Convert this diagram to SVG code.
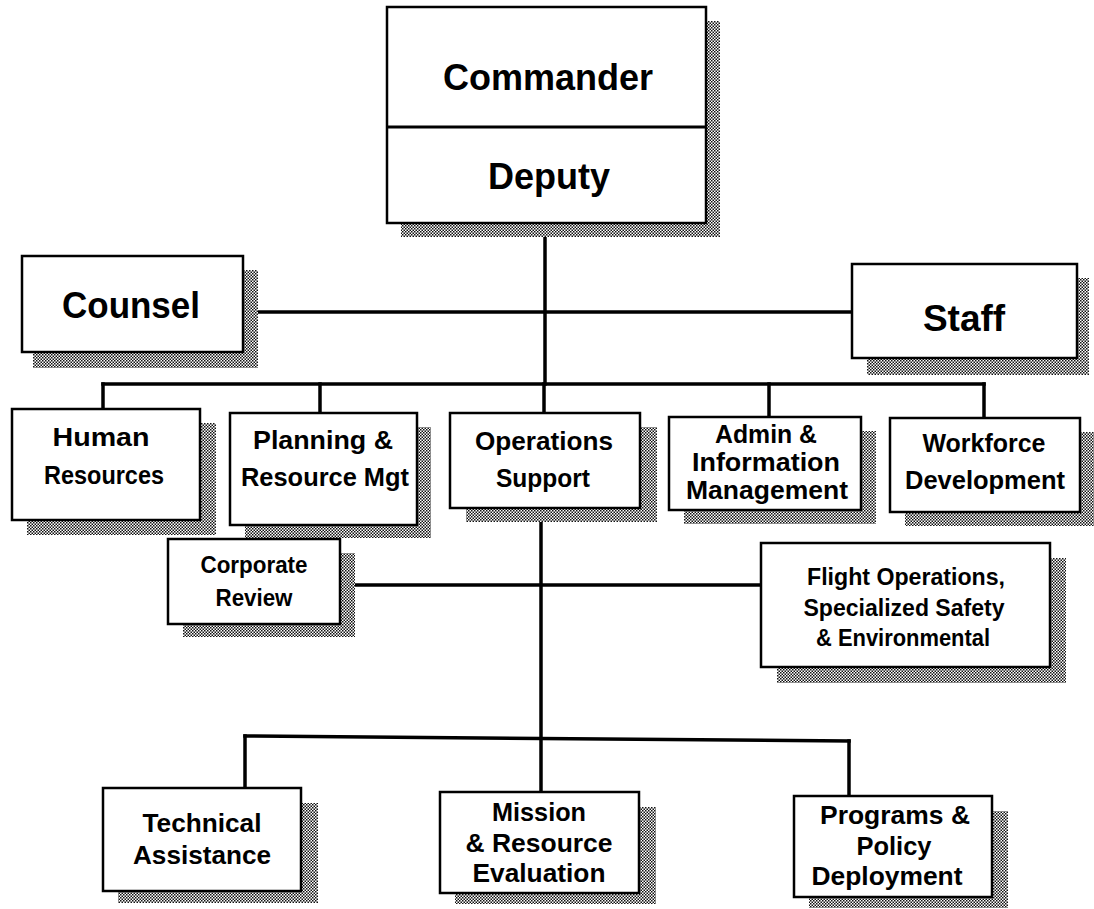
<svg xmlns="http://www.w3.org/2000/svg" width="1094" height="909" viewBox="0 0 1094 909">
<defs>
<pattern id="stipple" width="3" height="3" patternUnits="userSpaceOnUse">
<rect width="3" height="3" fill="#fff"/>
<rect width="1.5" height="1.5" fill="#111"/>
<rect x="1.5" y="1.5" width="1.5" height="1.5" fill="#111"/>
</pattern>
<style>
.box{fill:#fff;stroke:#000;stroke-width:2.5}
.sh{fill:url(#stipple);stroke:none}
.ln{fill:none;stroke:#000;stroke-width:3.5;stroke-linecap:square}
text{font-family:"Liberation Sans",Arial,Helvetica,sans-serif;font-weight:bold;fill:#000;text-anchor:middle}
.xl{font-size:36px}
.m{font-size:26px}
.s{font-size:23px}
</style>
</defs>
<rect width="1094" height="909" fill="#fff"/>

<g id="connectors">
<line class="ln" x1="545" y1="223" x2="545" y2="384"/>
<line class="ln" x1="243" y1="312" x2="852" y2="312"/>
<line class="ln" x1="103" y1="384" x2="984" y2="384"/>
<line class="ln" x1="103" y1="384" x2="103" y2="409"/>
<line class="ln" x1="320" y1="384" x2="320" y2="413"/>
<line class="ln" x1="544" y1="384" x2="544" y2="413"/>
<line class="ln" x1="769" y1="384" x2="769" y2="417"/>
<line class="ln" x1="984" y1="384" x2="984" y2="418"/>
<line class="ln" x1="541" y1="508" x2="541" y2="792"/>
<line class="ln" x1="340" y1="585" x2="761" y2="585"/>
<line class="ln" x1="245" y1="736" x2="849" y2="741"/>
<line class="ln" x1="245" y1="736" x2="245" y2="788"/>
<line class="ln" x1="849" y1="741" x2="849" y2="796"/>
</g>

<g id="commander">
<path class="sh" d="M706 21 H720 V237 H401 V223 H706 Z"/>
<rect class="box" x="387" y="7" width="319" height="216"/>
<line x1="387" y1="127" x2="706" y2="127" stroke="#000" stroke-width="3"/>
<text class="xl" x="548" y="90" textLength="210" lengthAdjust="spacingAndGlyphs">Commander</text>
<text class="xl" x="549" y="189" textLength="122" lengthAdjust="spacingAndGlyphs">Deputy</text>
</g>

<g id="counsel">
<path class="sh" d="M243 270 H258 V368 H33 V352 H243 Z"/>
<rect class="box" x="22" y="256" width="221" height="96"/>
<text class="xl" x="131" y="318" textLength="138" lengthAdjust="spacingAndGlyphs">Counsel</text>
</g>

<g id="staff">
<path class="sh" d="M1077 278 H1089 V375 H867 V358 H1077 Z"/>
<rect class="box" x="852" y="264" width="225" height="94"/>
<text x="964" y="331" style="font-size:37px">Staff</text>
</g>

<g id="human-resources">
<path class="sh" d="M200 423 H216 V535 H27 V520 H200 Z"/>
<rect class="box" x="12" y="409" width="188" height="111"/>
<text class="m" x="101" y="446" textLength="97" lengthAdjust="spacingAndGlyphs">Human</text>
<text class="m" x="104" y="484" textLength="120" lengthAdjust="spacingAndGlyphs">Resources</text>
</g>

<g id="planning">
<path class="sh" d="M417 427 H431 V538 H245 V525 H417 Z"/>
<rect class="box" x="230" y="413" width="187" height="112"/>
<text class="m" x="323" y="449" textLength="140" lengthAdjust="spacingAndGlyphs">Planning &amp;</text>
<text class="m" x="325" y="486" textLength="168" lengthAdjust="spacingAndGlyphs">Resource Mgt</text>
</g>

<g id="operations-support">
<path class="sh" d="M640 427 H657 V522 H466 V508 H640 Z"/>
<rect class="box" x="450" y="413" width="190" height="95"/>
<text class="m" x="544" y="450" textLength="138" lengthAdjust="spacingAndGlyphs">Operations</text>
<text class="m" x="543" y="487" textLength="94" lengthAdjust="spacingAndGlyphs">Support</text>
</g>

<g id="admin">
<path class="sh" d="M861 431 H876 V524 H684 V510 H861 Z"/>
<rect class="box" x="669" y="417" width="192" height="93"/>
<text class="m" x="766" y="443" textLength="102" lengthAdjust="spacingAndGlyphs">Admin &amp;</text>
<text class="m" x="766" y="471" textLength="148" lengthAdjust="spacingAndGlyphs">Information</text>
<text class="m" x="767" y="499" textLength="162" lengthAdjust="spacingAndGlyphs">Management</text>
</g>

<g id="workforce">
<path class="sh" d="M1080 432 H1094 V526 H905 V512 H1080 Z"/>
<rect class="box" x="890" y="418" width="190" height="94"/>
<text class="m" x="984" y="452" textLength="123" lengthAdjust="spacingAndGlyphs">Workforce</text>
<text class="m" x="985" y="489" textLength="160" lengthAdjust="spacingAndGlyphs">Development</text>
</g>

<g id="corporate-review">
<path class="sh" d="M340 553 H355 V637 H183 V624 H340 Z"/>
<rect class="box" x="168" y="539" width="172" height="85"/>
<text class="s" x="254" y="573" textLength="107" lengthAdjust="spacingAndGlyphs">Corporate</text>
<text class="s" x="254" y="606" textLength="77" lengthAdjust="spacingAndGlyphs">Review</text>
</g>

<g id="flight-operations">
<path class="sh" d="M1050 558 H1066 V683 H777 V667 H1050 Z"/>
<rect class="box" x="761" y="543" width="289" height="124"/>
<text class="s" x="906" y="585" textLength="198" lengthAdjust="spacingAndGlyphs">Flight Operations,</text>
<text class="s" x="904" y="616" textLength="201" lengthAdjust="spacingAndGlyphs">Specialized Safety</text>
<text class="s" x="903" y="646" textLength="174" lengthAdjust="spacingAndGlyphs">&amp; Environmental</text>
</g>

<g id="technical-assistance">
<path class="sh" d="M301 803 H318 V903 H118 V891 H301 Z"/>
<rect class="box" x="103" y="788" width="198" height="103"/>
<text class="m" x="202" y="832" textLength="119" lengthAdjust="spacingAndGlyphs">Technical</text>
<text class="m" x="202" y="864" textLength="138" lengthAdjust="spacingAndGlyphs">Assistance</text>
</g>

<g id="mission-evaluation">
<path class="sh" d="M639 807 H656 V904 H455 V893 H639 Z"/>
<rect class="box" x="440" y="792" width="199" height="101"/>
<text class="m" x="539" y="821" textLength="94" lengthAdjust="spacingAndGlyphs">Mission</text>
<text class="m" x="539" y="852" textLength="147" lengthAdjust="spacingAndGlyphs">&amp; Resource</text>
<text class="m" x="539" y="882" textLength="133" lengthAdjust="spacingAndGlyphs">Evaluation</text>
</g>

<g id="programs-policy">
<path class="sh" d="M992 811 H1008 V908 H809 V897 H992 Z"/>
<rect class="box" x="794" y="796" width="198" height="101"/>
<text class="m" x="895" y="824" textLength="150" lengthAdjust="spacingAndGlyphs">Programs &amp;</text>
<text class="m" x="894" y="855" textLength="75" lengthAdjust="spacingAndGlyphs">Policy</text>
<text class="m" x="887" y="885" textLength="151" lengthAdjust="spacingAndGlyphs">Deployment</text>
</g>
</svg>
